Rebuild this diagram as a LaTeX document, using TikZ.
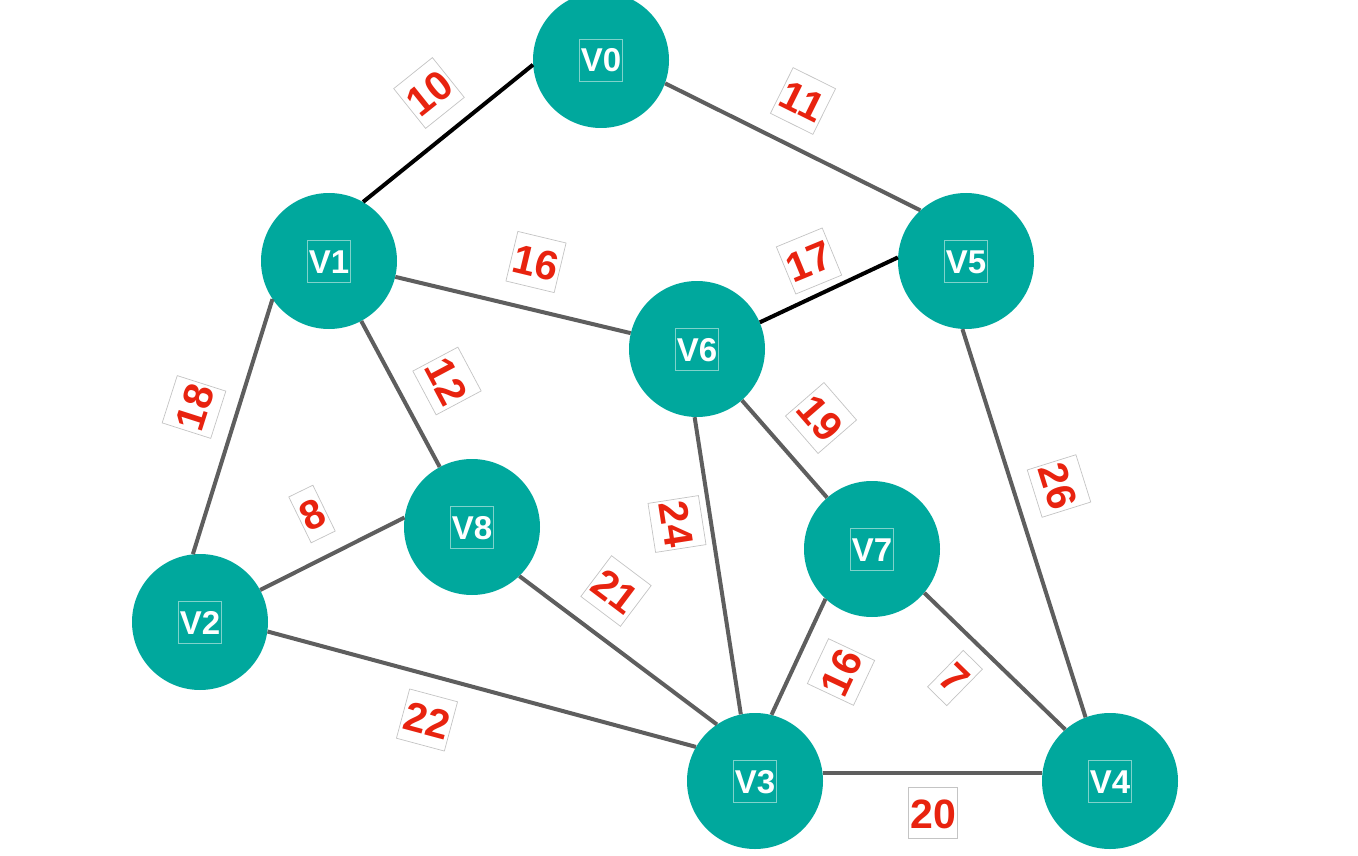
\documentclass[tikz,border=0pt]{standalone}
\usepackage{fontspec}
\setmainfont{Liberation Sans}
\definecolor{teal1}{HTML}{00A89D}
\definecolor{edgegray}{HTML}{5E5E5E}
\definecolor{lblred}{HTML}{E8230F}
\definecolor{lblbox}{HTML}{C4C4C4}
\definecolor{vbox}{HTML}{7FD2CB}
\tikzset{
  vertex/.style={circle, fill=teal1, draw=none, minimum size=136pt, inner sep=0pt},
  vlabel/.style={draw=vbox, line width=0.8pt, text=white, font=\fontsize{33}{36}\selectfont\bfseries,
     minimum height=42pt, inner xsep=1pt, inner ysep=0pt, text height=24pt, text depth=0pt},
  edge/.style={draw=edgegray, line width=4pt},
  bedge/.style={draw=black, line width=4pt},
  wlabel/.style={draw=lblbox, line width=0.7pt, fill=white, text=lblred,
     font=\fontsize{41}{44}\selectfont\bfseries, minimum height=51pt, inner xsep=2pt, inner ysep=0pt,
     text height=30pt, text depth=0pt}
}
\begin{document}
\begin{tikzpicture}[x=1pt,y=-1pt]
\useasboundingbox (0,0) rectangle (1358,856);
% vertices
\node[vertex] (V0) at (601,60) {};
\node[vertex] (V1) at (329,261) {};
\node[vertex] (V2) at (200,622) {};
\node[vertex] (V3) at (755,781) {};
\node[vertex] (V4) at (1110,781) {};
\node[vertex] (V5) at (966,261) {};
\node[vertex] (V6) at (697,349) {};
\node[vertex] (V7) at (872,549) {};
\node[vertex] (V8) at (472,527) {};
\foreach \v in {0,...,8}{
  \node[vlabel] (t\v) at (V\v) {V\v};
}
% edges
\draw[bedge] (V1.60) -- (V0.184);
\draw[edge] (V0.-20) -- (V5.132);
\draw[edge] (V1) -- (V6);
\draw[bedge] (V6.23) -- (V5.177);
\draw[edge] (V1.214) -- (V2.96);
\draw[edge] (V1) -- (V8);
\draw[edge] (V2.28) -- (V8.172);
\draw[edge] (V2.-8) -- (V3.150);
\draw[edge] (V8.-46) -- (V3.124);
\draw[edge] (V6.-92) -- (V3.102);
\draw[edge] (V6) -- (V7);
\draw[edge] (V7.227) -- (V3.76);
\draw[edge] (V7.-40) -- (V4.131);
\draw[edge] (V5.-93) -- (V4.111);
\draw[edge] (V3.7) -- (V4.173);
% weights
\node[wlabel, rotate=38.7] (w01) at (429,93) {10};
\node[wlabel, rotate=-26.4] (w05) at (803,101) {11};
\node[wlabel, rotate=-13.5] (w16) at (536,262) {16};
\node[wlabel, rotate=22.4] (w65) at (809,261) {17};
\node[wlabel, rotate=72.3] (w12) at (194,407) {18};
\node[wlabel, rotate=-62] (w18) at (447,381) {12};
\node[wlabel, rotate=26] (w28) at (312,514) {8};
\node[wlabel, rotate=-81.2] (w63) at (677,524) {24};
\node[wlabel, rotate=-49] (w67) at (821,418) {19};
\node[wlabel, rotate=-72.6] (w54) at (1059,486) {26};
\node[wlabel, rotate=-37] (w83) at (616,591) {21};
\node[wlabel, rotate=64.8] (w73) at (841,672) {16};
\node[wlabel, rotate=-44.4] (w74) at (955,678) {7};
\node[wlabel, rotate=-15] (w23) at (427,720) {22};
\node[wlabel] (w34) at (933,813) {20};
\end{tikzpicture}
\end{document}
